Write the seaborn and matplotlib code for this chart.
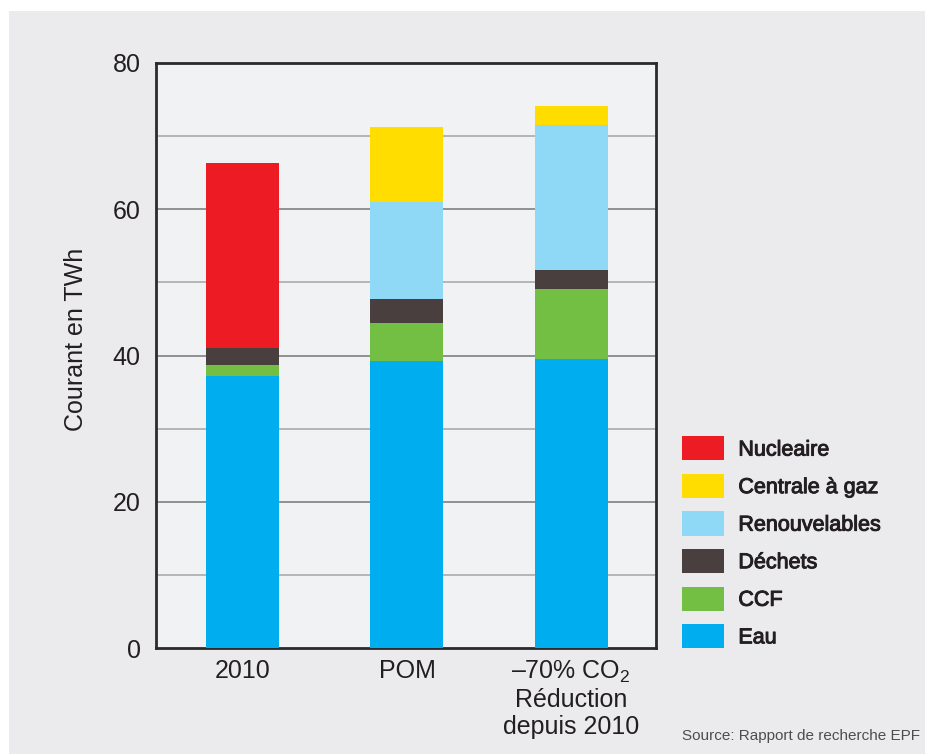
import numpy as np
import pandas as pd
import matplotlib
matplotlib.use("Agg")
import matplotlib.pyplot as plt
import matplotlib.patheffects as pe
from matplotlib.patches import Rectangle, Patch
import seaborn as sns

# Scenarios and electricity production by source (TWh)
scenarios = ["2010", "POM", "–70% CO$_\\mathregular{2}$\nRéduction\ndepuis 2010"]
sources = ["Eau", "CCF", "Déchets", "Renouvelables", "Centrale à gaz", "Nucleaire"]
eau = [37.2, 39.2, 39.5]
ccf = [1.5, 5.2, 9.6]
dechets = [2.3, 3.3, 2.6]
renouvelables = [0.0, 13.3, 19.8]
centrale_gaz = [0.0, 10.2, 2.6]
nucleaire = [25.3, 0.0, 0.0]
colors = ["#00aeef", "#72bf44", "#483f3e", "#8fd8f6", "#ffdd00", "#ed1c24"]

y_ticks = [0, 20, 40, 60, 80]

sns.set_theme(style="white")
plt.rcParams["font.family"] = ["Liberation Sans", "DejaVu Sans"]
plt.rcParams["mathtext.fontset"] = "custom"
plt.rcParams["mathtext.rm"] = "Liberation Sans"
plt.rcParams["mathtext.default"] = "regular"

text_color = "#231f20"
panel_color = "#ebebed"

fig = plt.figure(figsize=(9.25, 7.54), dpi=100, facecolor="white")
fig.patches.append(Rectangle((9 / 925, 0), 1, 1 - 11 / 754,
                             transform=fig.transFigure, facecolor=panel_color,
                             edgecolor="none", zorder=-10))

ax = fig.add_axes([156 / 925, 1 - 648 / 754, 500 / 925, 585 / 754])
ax.set_facecolor("#f1f2f4")

values = np.array([eau, ccf, dechets, renouvelables, centrale_gaz, nucleaire])
cum = np.cumsum(values, axis=0)

# Draw the stack from the top layer down so each lower layer covers the rest
for i in range(len(sources) - 1, -1, -1):
    heights = np.where(values[i] > 0, cum[i], np.nan)
    df = pd.DataFrame({"scenario": scenarios, "valeur": heights})
    sns.barplot(data=df, x="scenario", y="valeur", color=colors[i],
                saturation=1, width=0.445, linewidth=0, ax=ax, zorder=3)

ax.set_xlim(-0.53, 2.518)
ax.set_ylim(0, 80)
ax.set_yticks(y_ticks)
ax.grid(False)
for t in y_ticks[1:-1]:
    ax.axhline(t, color="#808080", lw=1.2, zorder=1)
for t in [10, 30, 50, 70]:
    ax.axhline(t, color="#b5b5b5", lw=1.4, zorder=1)

for s in ax.spines.values():
    s.set_visible(True)
    s.set_color("#2b2b2b")
    s.set_linewidth(2.0)

ax.tick_params(axis="both", which="both", length=0, labelsize=18,
               labelcolor=text_color)
ax.tick_params(axis="y", pad=11)
ax.tick_params(axis="x", pad=8)
for lab in ax.get_xticklabels():
    lab.set_linespacing(1.15)
    lab.set_verticalalignment("top")

ax.set_xlabel("")
ax.set_ylabel("Courant en TWh", fontsize=18, color=text_color)
ax.yaxis.set_label_coords(-0.136, 0.527)

handles = [Patch(facecolor=colors[i], edgecolor="none", label=sources[i])
           for i in range(len(sources) - 1, -1, -1)]
leg = fig.legend(handles=handles, loc="upper left",
                 bbox_to_anchor=(663 / 925, 1 - 417 / 754), frameon=False,
                 fontsize=15.5, handlelength=1.95, handleheight=1.34,
                 handletextpad=0.65, labelspacing=0.62, borderpad=0.4)
for txt in leg.get_texts():
    txt.set_color(text_color)
    txt.set_path_effects([pe.withStroke(linewidth=0.7, foreground=text_color)])

fig.text(920 / 925, 1 - 736 / 754, "Source: Rapport de recherche EPF",
         ha="right", va="center", fontsize=11, color="#4d4d4d")

fig.savefig("out.png", dpi=100, facecolor="white")
